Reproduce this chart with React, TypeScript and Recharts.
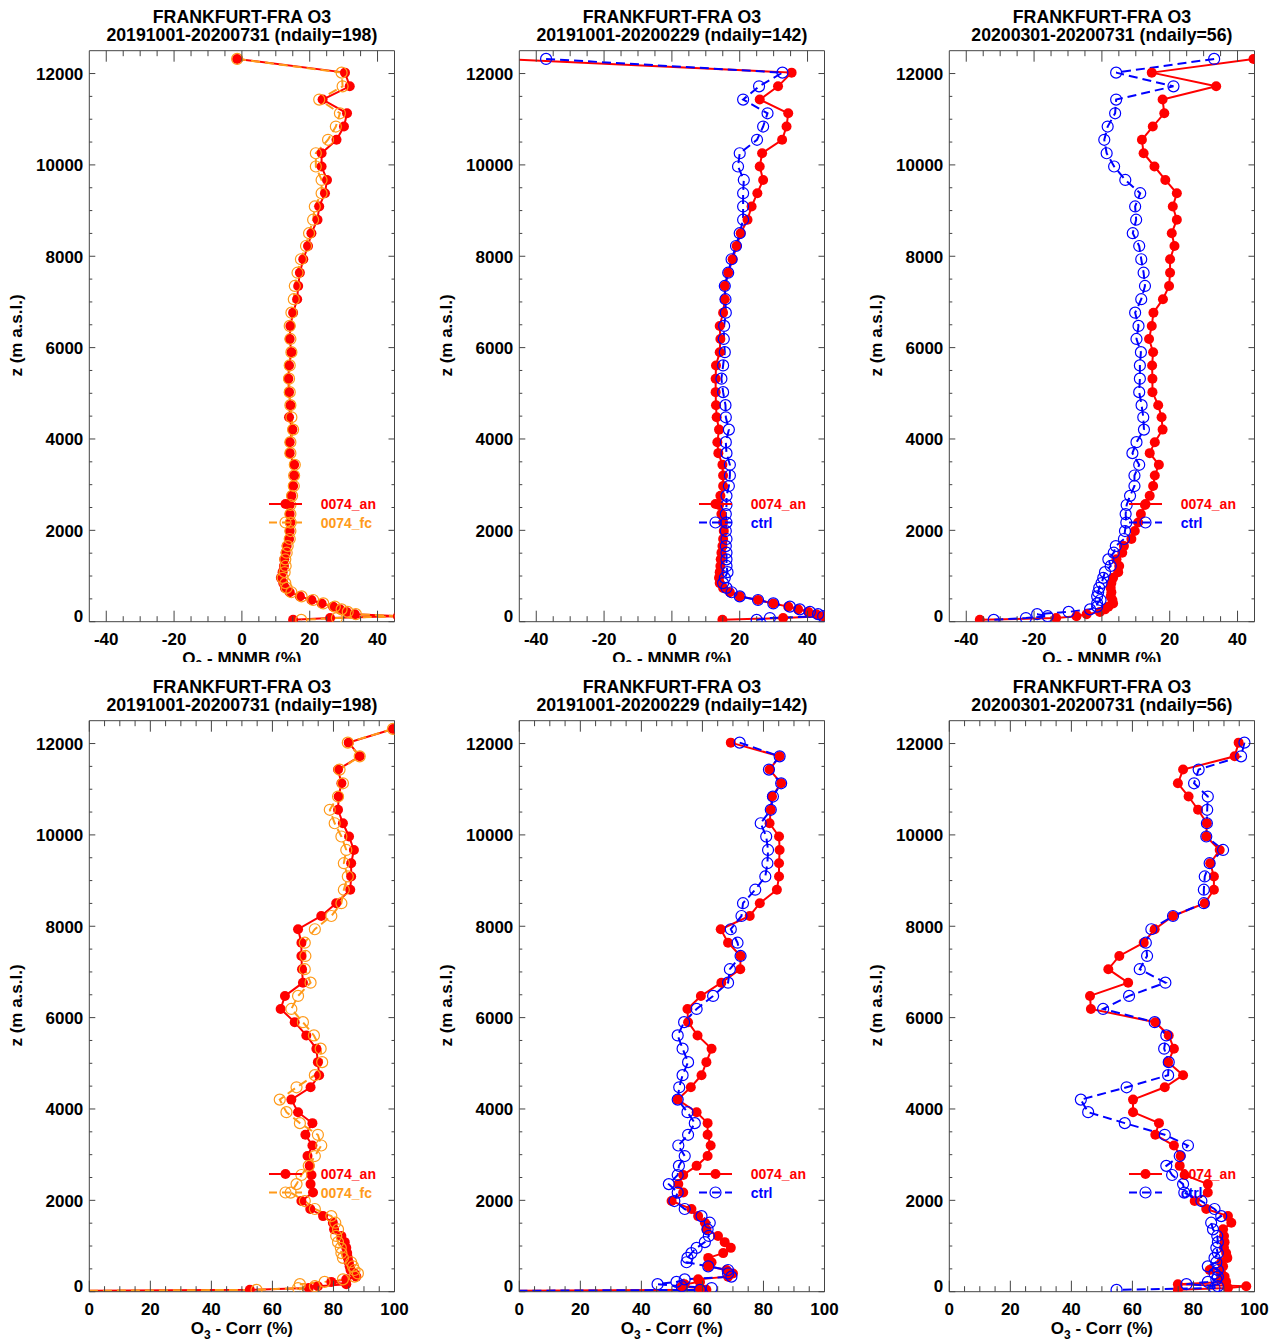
import React from "react";
import { LineChart, Line, XAxis, YAxis, ReferenceLine } from "recharts";

// altitude levels (m a.s.l.), shared by all profiles
const ALT_M = [
  12320, 12020, 11720, 11430, 11130, 10840, 10550, 10255, 9965, 9670,
  9380, 9090, 8800, 8505, 8225, 7935, 7640, 7350, 7060, 6765,
  6475, 6190, 5900, 5610, 5320, 5025, 4740, 4475, 4205, 3930,
  3690, 3435, 3200, 2970, 2755, 2555, 2355, 2170, 1985, 1810,
  1655, 1510, 1365, 1220, 1085, 960, 845, 740, 645, 555,
  475, 400, 330, 270, 215, 165, 120, 80, 40, 10,
];

// MNMB (%) profiles
const MNMB_ALL_AN = [
  -1.4, 30.4, 31.8, 23.8, 31.0, 30.1, 27.9, 23.5, 23.5, 25.1,
  24.5, 22.8, 22.3, 20.5, 19.5, 18.1, 17.1, 16.6, 16.3, 15.1,
  14.3, 14.1, 14.6, 13.9, 13.7, 13.9, 14.3, 13.9, 14.9, 14.1,
  14.1, 15.4, 15.4, 15.1, 14.6, 14.1, 14.1, 14.3, 14.1, 13.9,
  13.2, 12.9, 12.5, 12.4, 12.0, 11.5, 12.2, 12.7, 14.1, 17.1,
  20.5, 23.5, 26.9, 28.9, 30.8, 33.3, 46, 26, 15.1, null,
];
const MNMB_ALL_FC = [
  -1.4, 29.4, 29.7, 22.8, 28.9, 27.7, 25.4, 21.8, 21.8, 23.5,
  23.5, 21.5, 21.0, 19.8, 18.9, 17.4, 16.4, 15.6, 15.3, 14.6,
  14.1, 14.3, 14.6, 14.1, 13.9, 14.1, 14.3, 14.6, 15.1, 14.3,
  14.3, 15.6, 15.4, 15.3, 14.8, 14.3, 14.3, 14.4, 14.3, 14.1,
  13.5, 13.2, 12.8, 12.9, 12.6, 12.0, 12.8, 13.2, 14.6, 17.6,
  21.0, 24.0, 27.4, 29.4, 31.2, 33.6, 47, 28, 17.5, null,
];
const MNMB_WIN_AN = [
  -50, 35.3, 31.3, 25.9, 34.3, 33.8, 32.5, 26.6, 25.9, 26.9,
  25.2, 23.5, 22.3, 20.3, 19.1, 17.9, 16.6, 15.6, 15.6, 15.1,
  14.1, 14.3, 14.1, 13.0, 12.9, 12.9, 13.0, 13.2, 13.9, 13.4,
  13.7, 14.9, 15.1, 15.1, 14.3, 13.9, 14.6, 15.1, 15.3, 15.1,
  14.9, 14.6, 14.4, 14.3, 14.1, 13.9, 14.1, 15.1, 17.1, 20.0,
  25.4, 29.9, 34.3, 37.2, 40.2, 42.6, 44.6, 32.8, 14.9, null,
];
const MNMB_WIN_CTRL = [
  -37.1, 32.6, 25.7, 21.0, 28.2, 26.9, 25.1, 20.0, 19.5, 21.2,
  21.0, 21.0, 21.0, 20.0, 18.9, 17.6, 16.6, 15.6, 15.8, 15.9,
  15.4, 15.3, 15.6, 15.1, 14.6, 15.1, 15.8, 15.9, 16.8, 15.9,
  16.1, 17.1, 17.1, 16.8, 16.1, 16.1, 15.9, 16.1, 15.9, 16.1,
  15.9, 16.1, 16.1, 16.1, 16.4, 15.6, 15.1, 16.1, 17.6, 20.0,
  25.4, 29.9, 34.8, 37.7, 40.7, 43.1, 44.6, 28.9, 25.0, null,
];
const MNMB_SPR_AN = [
  44.7, 14.7, 33.7, 17.9, 18.4, 15.0, 11.8, 12.3, 15.5, 18.7,
  22.1, 20.9, 22.1, 20.6, 21.4, 20.1, 20.1, 19.8, 18.0, 15.2,
  14.7, 13.9, 15.1, 14.8, 14.9, 14.9, 16.6, 17.6, 17.9, 15.6,
  14.1, 16.8, 15.6, 15.1, 14.1, 12.7, 11.5, 10.7, 9.7, 8.7,
  6.5, 6.0, 4.3, 5.1, 4.8, 3.3, 2.8, 2.6, 2.8, 2.6,
  3.1, 3.3, 1.9, 0.9, -0.6, -4.5, -7.5, -13.5, -36.0, null,
];
const MNMB_SPR_CTRL = [
  33.1, 4.2, 21.1, 4.2, 3.9, 1.7, 0.7, 1.4, 3.6, 6.9,
  11.3, 9.8, 10.1, 9.1, 11.0, 11.6, 12.3, 12.7, 11.6, 9.8,
  10.8, 10.2, 11.5, 11.2, 11.2, 11.0, 11.7, 12.2, 12.4, 10.2,
  9.0, 11.0, 9.6, 9.6, 8.3, 7.3, 7.0, 7.2, 6.8, 6.5,
  4.1, 3.5, 1.9, 2.6, 0.9, 0.4, -0.1, -0.8, -1.1, -1.4,
  -0.4, -1.4, -1.4, -3.5, -9.8, -19.1, -16.0, -22.4, -31.9, null,
];

// correlation (%) profiles
const CORR_ALL_AN = [
  99.5, 85.0, 88.6, 81.5, 82.6, 81.7, 81.5, 83.1, 85.1, 86.7,
  85.8, 85.8, 85.5, 80.9, 76.0, 68.4, 69.5, 69.5, 69.7, 70.0,
  64.1, 62.7, 67.3, 71.1, 74.4, 74.9, 75.3, 72.5, 66.2, 68.4,
  73.1, 70.8, 73.1, 71.5, 72.2, 72.8, 72.5, 73.3, 69.5, 72.4,
  76.6, 79.8, 80.2, 82.6, 83.7, 84.2, 84.5, 84.7, 85.0, 85.3,
  85.6, 86.9, 87.5, 84.2, 79.3, 84.2, 74.9, 71.9, 52.6, -30,
];
const CORR_ALL_FC = [
  99.5, 84.7, 88.6, 82.0, 83.1, 81.5, 78.8, 80.4, 82.6, 84.2,
  83.4, 84.7, 83.4, 82.6, 79.3, 73.9, 70.6, 70.8, 70.6, 72.5,
  68.4, 66.2, 70.0, 73.6, 75.8, 76.3, 73.9, 67.9, 62.4, 64.6,
  69.0, 74.9, 76.0, 73.9, 71.9, 69.5, 67.9, 66.0, 70.6, 73.9,
  79.3, 80.6, 81.5, 80.9, 81.5, 82.4, 82.6, 83.1, 85.8, 86.4,
  86.9, 88.0, 86.9, 83.1, 77.1, 69.0, 73.9, 68.4, 54.8, -30,
];
const CORR_WIN_AN = [
  null, 69.3, 85.3, 82.0, 85.8, 82.8, 82.4, 82.0, 85.1, 85.3,
  85.1, 85.1, 84.4, 78.8, 75.5, 66.0, 68.4, 72.5, 72.4, 66.2,
  59.5, 55.1, 55.3, 58.4, 63.0, 61.3, 59.7, 56.2, 51.9, 58.1,
  61.7, 61.7, 62.7, 61.7, 58.1, 53.7, 52.1, 53.7, 49.9, 56.4,
  58.6, 60.8, 61.3, 65.1, 67.3, 69.3, 66.8, 61.9, 63.0, 61.9,
  67.9, 70.0, 68.4, 58.6, 59.2, 54.2, 53.2, 59.2, 61.3, -30,
];
const CORR_WIN_CTRL = [
  null, 72.2, 85.3, 81.8, 85.8, 83.1, 82.4, 79.1, 80.9, 81.5,
  81.3, 80.6, 77.3, 73.3, 72.8, 69.3, 71.5, 72.5, 69.0, 68.4,
  63.5, 58.1, 54.0, 51.9, 53.5, 55.3, 53.5, 52.4, 51.9, 55.1,
  57.5, 55.3, 52.1, 54.2, 52.3, 51.9, 49.0, 51.9, 50.8, 54.2,
  59.7, 62.4, 61.7, 62.1, 60.8, 58.1, 56.4, 55.1, 54.8, 61.9,
  68.4, 68.4, 69.5, 54.2, 51.5, 45.3, 53.2, 63.0, 59.2, -30,
];
const CORR_SPR_AN = [
  null, 94.8, 93.5, 76.6, 74.9, 78.4, 81.5, 84.4, 84.2, 88.6,
  85.5, 86.7, 86.7, 83.7, 73.3, 67.3, 63.7, 55.7, 52.1, 58.6,
  46.1, 46.4, 67.5, 71.9, 73.6, 71.7, 76.6, 70.6, 60.2, 60.2,
  68.7, 67.5, 73.6, 75.8, 75.5, 77.1, 84.7, 84.7, 80.4, 84.2,
  91.3, 92.4, 89.7, 90.0, 90.2, 90.0, 90.7, 91.1, 89.1, 89.7,
  85.3, 89.1, 90.2, 89.1, 90.7, 74.9, 97.3, 91.3, 74.9, null,
];
const CORR_SPR_CTRL = [
  null, 96.7, 95.6, 81.7, 80.2, 84.7, 84.5, 84.4, 84.2, 89.7,
  85.3, 83.7, 83.4, 83.4, 73.3, 66.2, 64.4, 64.8, 62.4, 70.8,
  58.9, 50.4, 67.3, 71.1, 70.4, 71.9, 71.7, 58.1, 43.1, 45.5,
  57.5, 70.6, 78.2, 75.5, 71.1, 73.0, 76.6, 77.0, 82.6, 86.9,
  89.1, 85.8, 86.4, 87.8, 88.0, 87.5, 88.0, 86.9, 87.5, 84.7,
  88.0, 86.9, 88.0, 87.5, 84.7, 77.7, 88.0, 86.9, 54.8, null,
];

const MNMB_TICKS = [-40, -35, -30, -25, -20, -15, -10, -5, 0, 5, 10, 15, 20, 25, 30, 35, 40];
const CORR_TICKS = [0, 5, 10, 15, 20, 25, 30, 35, 40, 45, 50, 55, 60, 65, 70, 75, 80, 85, 90, 95, 100];
const Z_TICKS = [
  0, 500, 1000, 1500, 2000, 2500, 3000, 3500, 4000, 4500, 5000, 5500, 6000,
  6500, 7000, 7500, 8000, 8500, 9000, 9500, 10000, 10500, 11000, 11500, 12000,
];

const PERIODS = [
  "20191001-20200731 (ndaily=198)",
  "20191001-20200229 (ndaily=142)",
  "20200301-20200731 (ndaily=56)",
];

const RED = "#ff0000";
const ORANGE = "#ff9a1a";
const BLUE = "#0000ff";
const AXIS = "#444444";
const FONT = '"Liberation Sans", Arial, Helvetica, sans-serif';

// panel geometry (local to each 430px wide panel)
const W = 430;
const PL = 89.3;
const PR = 394.5;
const PT = 50.7;
const PB = 621.7;

function XTick(props: any) {
  const { x, payload } = props;
  const v = payload.value;
  const major = v % 20 === 0;
  const len = major ? 11 : 5.5;
  return (
    <g>
      <line x1={x} x2={x} y1={PB} y2={PB - len} stroke={AXIS} />
      <line x1={x} x2={x} y1={PT} y2={PT + len} stroke={AXIS} />
      {major && (
        <text x={x} y={PB + 23} textAnchor="middle" fontFamily={FONT} fontWeight="bold" fontSize={17} fill="#000">
          {v}
        </text>
      )}
    </g>
  );
}

function YTick(props: any) {
  const { y, payload } = props;
  const v = payload.value;
  const major = v % 2000 === 0;
  const len = major ? 6 : 3;
  return (
    <g>
      <line x1={PL} x2={PL + len} y1={y} y2={y} stroke={AXIS} />
      <line x1={PR} x2={PR - len} y1={y} y2={y} stroke={AXIS} />
      {major && (
        <text x={PL - 6} y={v === 0 ? y + 0.5 : y + 6.3} textAnchor="end" fontFamily={FONT} fontWeight="bold" fontSize={17} fill="#000">
          {v}
        </text>
      )}
    </g>
  );
}

const filledDot = (color: string) => (p: any) => {
  const { cx, cy, index } = p;
  if (cx == null || cy == null || !Number.isFinite(cx) || !Number.isFinite(cy)) return <g key={`f${index}`} />;
  return <circle key={`f${index}`} cx={cx} cy={cy} r={5} fill={color} stroke="none" />;
};

const openDot = (color: string) => (p: any) => {
  const { cx, cy, index } = p;
  if (cx == null || cy == null || !Number.isFinite(cx) || !Number.isFinite(cy)) return <g key={`o${index}`} />;
  return <circle key={`o${index}`} cx={cx} cy={cy} r={5.5} fill="none" stroke={color} strokeWidth={1.2} />;
};

interface PanelProps {
  corr: boolean;
  period: string;
  an: (number | null)[];
  other: (number | null)[];
  otherName: string;
  otherColor: string;
  left: number;
  top: number;
  height: number;
}

function Panel({ corr, period, an, other, otherName, otherColor, left, top, height }: PanelProps) {
  const rows = ALT_M.map((alt, i) => ({ alt, an: an[i], other: other[i] }));
  const xDomain = corr ? [0, 100] : [-45, 45];
  const cx = (PL + PR) / 2;
  const textStyle = { fontFamily: FONT, fontWeight: "bold" as const };

  return (
    <div style={{ position: "absolute", left, top, width: W, height, overflow: "hidden" }}>
      <LineChart
        layout="vertical"
        width={W}
        height={height}
        data={rows}
        margin={{ top: PT, right: W - PR, bottom: height - PB - 30, left: PL - 60 }}
      >
        <XAxis
          type="number"
          domain={xDomain}
          allowDataOverflow
          ticks={corr ? CORR_TICKS : MNMB_TICKS}
          interval={0}
          tick={(p: any) => <XTick {...p} />}
          tickLine={false}
          axisLine={{ stroke: AXIS }}
          height={30}
        />
        <YAxis
          type="number"
          dataKey="alt"
          domain={[0, 12500]}
          reversed
          allowDataOverflow
          ticks={Z_TICKS}
          interval={0}
          tick={(p: any) => <YTick {...p} />}
          tickLine={false}
          axisLine={{ stroke: AXIS }}
          width={60}
        />
        <ReferenceLine y={12500} stroke={AXIS} />
        <ReferenceLine x={xDomain[1]} stroke={AXIS} />
        <Line
          dataKey="an"
          type="linear"
          stroke={RED}
          strokeWidth={2}
          dot={filledDot(RED)}
          activeDot={false}
          isAnimationActive={false}
        />
        <Line
          dataKey="other"
          type="linear"
          stroke={otherColor}
          strokeWidth={2}
          strokeDasharray="9 5"
          dot={openDot(otherColor)}
          activeDot={false}
          isAnimationActive={false}
        />
      </LineChart>
      <svg
        width={W}
        height={height}
        style={{ position: "absolute", left: 0, top: 0, pointerEvents: "none" }}
      >
        <text x={cx} y={22.7} textAnchor="middle" fontSize={17.7} {...textStyle}>
          FRANKFURT-FRA O3
        </text>
        <text x={cx} y={41} textAnchor="middle" fontSize={17.7} {...textStyle}>
          {period}
        </text>
        <text
          x={22}
          y={335.5}
          textAnchor="middle"
          fontSize={17}
          transform="rotate(-90 22 335.5)"
          {...textStyle}
        >
          z (m a.s.l.)
        </text>
        <text x={cx} y={PB + 42.5} textAnchor="middle" fontSize={17} {...textStyle}>
          <tspan>O</tspan>
          <tspan fontSize={12} dy={5}>3</tspan>
          <tspan dy={-5}>{corr ? " - Corr (%)" : " - MNMB (%)"}</tspan>
        </text>
        {/* legend */}
        <line x1={269} x2={302} y1={504} y2={504} stroke={RED} strokeWidth={2} />
        <circle cx={285.5} cy={504} r={5} fill={RED} />
        <text x={320.7} y={509.2} fontSize={14} fill={RED} {...textStyle}>
          0074_an
        </text>
        <line x1={269} x2={302} y1={522.5} y2={522.5} stroke={otherColor} strokeWidth={2} strokeDasharray="8 5" />
        <circle cx={285.5} cy={522.5} r={5.5} fill="none" stroke={otherColor} strokeWidth={1.2} />
        <text x={320.7} y={527.7} fontSize={14} fill={otherColor} {...textStyle}>
          {otherName}
        </text>
      </svg>
    </div>
  );
}

const PANELS = [
  { corr: false, period: PERIODS[0], an: MNMB_ALL_AN, other: MNMB_ALL_FC, otherName: "0074_fc", otherColor: ORANGE },
  { corr: false, period: PERIODS[1], an: MNMB_WIN_AN, other: MNMB_WIN_CTRL, otherName: "ctrl", otherColor: BLUE },
  { corr: false, period: PERIODS[2], an: MNMB_SPR_AN, other: MNMB_SPR_CTRL, otherName: "ctrl", otherColor: BLUE },
  { corr: true, period: PERIODS[0], an: CORR_ALL_AN, other: CORR_ALL_FC, otherName: "0074_fc", otherColor: ORANGE },
  { corr: true, period: PERIODS[1], an: CORR_WIN_AN, other: CORR_WIN_CTRL, otherName: "ctrl", otherColor: BLUE },
  { corr: true, period: PERIODS[2], an: CORR_SPR_AN, other: CORR_SPR_CTRL, otherName: "ctrl", otherColor: BLUE },
];

export default function App() {
  return (
    <div style={{ position: "absolute", left: 0, top: 0, width: 1277, height: 1340, background: "#fff" }}>
      {PANELS.map((p, i) => (
        <Panel
          key={i}
          {...p}
          left={[0, 430, 860][i % 3]}
          top={i < 3 ? 0 : 670}
          height={i < 3 ? 662 : 670}
        />
      ))}
    </div>
  );
}
